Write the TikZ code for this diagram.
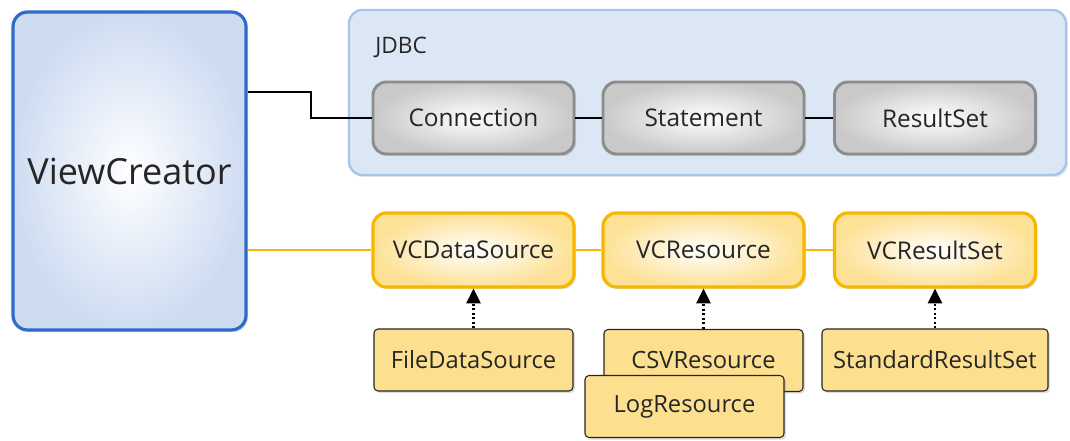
\documentclass[tikz,border=0pt]{standalone}
\usepackage{fontspec}
\setmainfont{Open Sans}
\usetikzlibrary{shadows,arrows.meta}
\definecolor{VCBlue}{HTML}{2F6CC9}
\definecolor{VCFill}{HTML}{CEDCF2}
\definecolor{JDBCFill}{HTML}{DCE7F6}
\definecolor{JDBCLine}{HTML}{A9C4EA}
\definecolor{GrayLine}{HTML}{8C8C8C}
\definecolor{GrayFill}{HTML}{C9C9C9}
\definecolor{GoldLine}{HTML}{F6B700}
\definecolor{GoldFill}{HTML}{FDE196}
\definecolor{ImplFill}{HTML}{FDE08F}
\definecolor{TextGray}{HTML}{262626}

\begin{document}
\begin{tikzpicture}[x=0.75pt,y=-0.75pt,
    box/.style={rectangle,rounded corners=10pt,inner sep=0pt,
      minimum width=150.75pt,minimum height=54pt,text=TextGray,
      font=\fontsize{18.3}{21}\selectfont,
      drop shadow={opacity=0.25,shadow xshift=1.5pt,shadow yshift=-1.5pt}},
    jdbcbox/.style={box,draw=GrayLine,line width=2.2pt,
      inner color=white,outer color=GrayFill},
    vcbox/.style={box,draw=GoldLine,line width=2.4pt,minimum height=55.5pt,
      inner color=white,outer color=GoldFill},
    implbox/.style={box,rounded corners=3pt,draw=TextGray,line width=0.8pt,
      fill=ImplFill,minimum width=149.25pt,minimum height=46.5pt,
      font=\fontsize{17.8}{21}\selectfont},
    realize/.style={line width=1.7pt,dash pattern=on 1.7pt off 1.7pt,
      -{Triangle[width=10.5pt,length=11pt]}}]
  \useasboundingbox (0,0) rectangle (1070,441);
  % JDBC group
  \node[rectangle,rounded corners=10pt,draw=JDBCLine,line width=1.8pt,
    fill=JDBCFill,minimum width=537.75pt,minimum height=123.75pt,
    drop shadow={opacity=0.2,shadow xshift=1.5pt,shadow yshift=-1.5pt}]
    (jdbc) at (707.5,92.5) {};
  \node[anchor=west,inner sep=0pt,text=TextGray,font=\fontsize{17}{20}\selectfont]
    (jdbclabel) at (375,47) {JDBC};
  % ViewCreator
  \node[box,rounded corners=11pt,draw=VCBlue,line width=2.4pt,
    inner color=white,outer color=VCFill,minimum width=174.75pt,
    minimum height=238.5pt,font=\fontsize{27}{31}\selectfont]
    (vc) at (129.5,171) {ViewCreator};
  \node[jdbcbox] (conn) at (473.5,118) {Connection};
  \node[jdbcbox] (stmt) at (703.5,118) {Statement};
  \node[jdbcbox] (rs) at (935,118) {ResultSet};
  \node[vcbox] (vcds) at (473.5,250) {VCDataSource};
  \node[vcbox] (vcres) at (703.5,250) {VCResource};
  \node[vcbox] (vcrs) at (935,250) {VCResultSet};
  \node[implbox] (fds) at (473.5,360) {FileDataSource};
  \node[implbox] (csv) at (703.5,360.5) {CSVResource};
  \node[implbox] (log) at (684.5,406.5) {LogResource};
  \node[implbox,minimum width=169.5pt] (std) at (935,360) {StandardResultSet};
  % connectors
  \coordinate (bend) at (311,92);
  \draw[line width=1.6pt] (vc.east |- bend) -- (bend) |- (conn.west);
  \draw[line width=1.6pt] (conn) -- (stmt);
  \draw[line width=1.6pt] (stmt) -- (rs);
  \draw[line width=1.6pt,draw=GoldLine] (vc.east |- vcds) -- (vcds);
  \draw[line width=1.6pt,draw=GoldLine] (vcds) -- (vcres);
  \draw[line width=1.6pt,draw=GoldLine] (vcres) -- (vcrs);
  \draw[realize] (fds) -- (vcds);
  \draw[realize] (csv) -- (vcres);
  \draw[realize] (std) -- (vcrs);
\end{tikzpicture}
\end{document}
